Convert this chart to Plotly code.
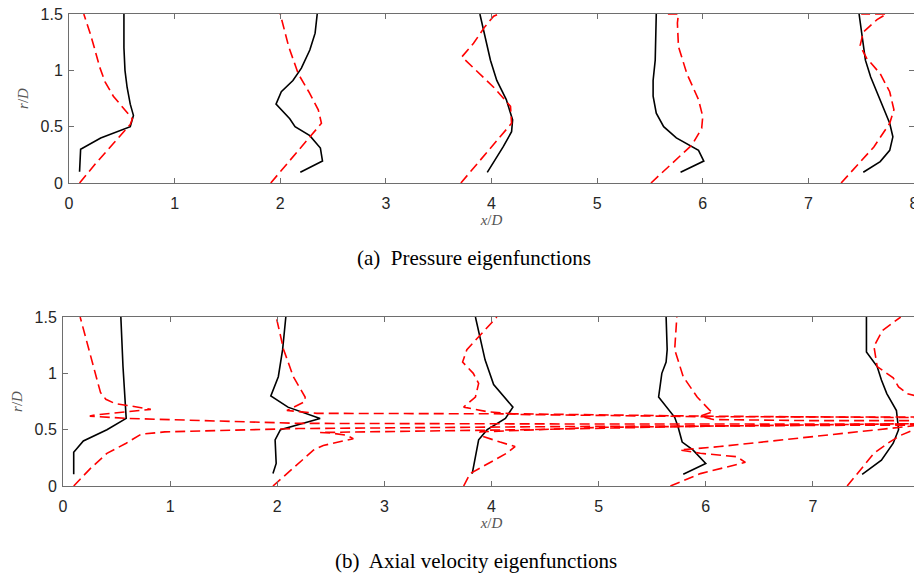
import plotly.graph_objects as go

# ---------------- data: (x/D, r/D) points ----------------
# (a) pressure eigenfunctions - solid black
pres_solid_1 = [(0.10, 0.10), (0.11, 0.30), (0.30, 0.40), (0.45, 0.45), (0.58, 0.50), (0.61, 0.60),
                (0.58, 0.70), (0.55, 0.85), (0.53, 1.00), (0.52, 1.20), (0.52, 1.50)]
pres_solid_2 = [(2.19, 0.095), (2.40, 0.195), (2.38, 0.31), (2.28, 0.42), (2.14, 0.50), (2.09, 0.57),
                (1.96, 0.70), (2.01, 0.81), (2.12, 0.91), (2.20, 1.02), (2.28, 1.18), (2.33, 1.33), (2.35, 1.50)]
pres_solid_3 = [(3.96, 0.095), (4.11, 0.32), (4.19, 0.455), (4.20, 0.56), (4.14, 0.74), (4.05, 0.91),
                (3.99, 1.09), (3.94, 1.30), (3.89, 1.50)]
pres_solid_4 = [(5.79, 0.095), (6.01, 0.195), (5.96, 0.29), (5.86, 0.34), (5.75, 0.40), (5.63, 0.50),
                (5.56, 0.62), (5.53, 0.77), (5.53, 0.91), (5.55, 1.09), (5.56, 1.50)]
pres_solid_5 = [(7.52, 0.095), (7.68, 0.19), (7.77, 0.29), (7.80, 0.41), (7.77, 0.53), (7.68, 0.74),
                (7.59, 0.94), (7.54, 1.09), (7.51, 1.30), (7.48, 1.50)]
# (a) pressure eigenfunctions - dashed red
pres_dash_1 = [(0.10, 0.00), (0.25, 0.17), (0.42, 0.35), (0.58, 0.52), (0.60, 0.57), (0.52, 0.66),
               (0.42, 0.77), (0.34, 0.90), (0.29, 1.03), (0.24, 1.20), (0.20, 1.33), (0.14, 1.50)]
pres_dash_2 = [(1.91, 0.00), (2.15, 0.27), (2.39, 0.53), (2.36, 0.65), (2.27, 0.81), (2.17, 0.97),
               (2.08, 1.21), (2.00, 1.50)]
pres_dash_3 = [(3.71, 0.00), (3.95, 0.27), (4.19, 0.53), (4.18, 0.68), (4.02, 0.85), (3.72, 1.12),
               (3.83, 1.24), (3.94, 1.39), (4.02, 1.48), (4.07, 1.50)]
pres_dash_4 = [(5.51, 0.00), (5.70, 0.17), (5.90, 0.34), (5.99, 0.485), (6.00, 0.59), (5.96, 0.74),
               (5.85, 0.97), (5.77, 1.21), (5.76, 1.42), (5.77, 1.50), (5.67, 1.50)]
pres_dash_5 = [(7.31, 0.00), (7.62, 0.32), (7.77, 0.53), (7.81, 0.65), (7.77, 0.81), (7.68, 0.97),
               (7.55, 1.11), (7.49, 1.22), (7.52, 1.34), (7.65, 1.45), (7.74, 1.50), (7.50, 1.50)]

# (b) axial velocity eigenfunctions - solid black
axial_solid_1 = [(0.10, 0.104), (0.10, 0.30), (0.19, 0.40), (0.41, 0.50), (0.59, 0.60), (0.58, 0.76),
                 (0.56, 1.06), (0.54, 1.50)]
axial_solid_2 = [(1.96, 0.11), (1.99, 0.20), (1.98, 0.41), (2.03, 0.50), (2.40, 0.60), (2.10, 0.70),
                 (1.94, 0.80), (2.01, 0.97), (2.05, 1.21), (2.08, 1.50)]
axial_solid_3 = [(3.82, 0.11), (3.88, 0.41), (3.96, 0.50), (4.13, 0.60), (4.20, 0.70), (4.02, 0.90),
                 (3.94, 1.12), (3.89, 1.33), (3.85, 1.50)]
axial_solid_4 = [(5.79, 0.104), (6.00, 0.20), (5.88, 0.32), (5.78, 0.39), (5.74, 0.53), (5.71, 0.61),
                 (5.56, 0.79), (5.59, 1.00), (5.63, 1.10), (5.64, 1.21), (5.63, 1.50)]
axial_solid_5 = [(7.46, 0.104), (7.64, 0.23), (7.75, 0.38), (7.80, 0.50), (7.78, 0.67), (7.69, 0.82),
                 (7.64, 0.94), (7.60, 1.06), (7.50, 1.19), (7.50, 1.33), (7.50, 1.50)]
# (b) axial velocity eigenfunctions - dashed red (spikes run past the axis edge)
axial_dash_1 = [(0.10, 0.00), (0.25, 0.15), (0.41, 0.29), (0.59, 0.38), (0.73, 0.46), (0.95, 0.48),
                (2.20, 0.51), (5.00, 0.53), (9.00, 0.545), (9.00, 0.55), (5.00, 0.55), (2.20, 0.556),
                (0.60, 0.60), (0.38, 0.61), (0.25, 0.62), (0.30, 0.63), (0.60, 0.655), (0.82, 0.68),
                (0.60, 0.715), (0.49, 0.73), (0.40, 0.77), (0.35, 0.83), (0.31, 0.97), (0.24, 1.21),
                (0.16, 1.50)]
axial_dash_2 = [(1.96, 0.00), (2.13, 0.146), (2.34, 0.32), (2.43, 0.36), (2.71, 0.42), (2.65, 0.45),
                (2.50, 0.47), (2.40, 0.475), (4.30, 0.50), (6.00, 0.53), (9.00, 0.56), (9.00, 0.60),
                (6.00, 0.62), (4.30, 0.64), (2.37, 0.645), (2.09, 0.67), (2.26, 0.75), (2.26, 0.79),
                (2.15, 0.97), (2.06, 1.21), (1.99, 1.50)]
axial_dash_3 = [(3.74, 0.00), (3.80, 0.11), (4.14, 0.29), (4.22, 0.35), (4.08, 0.39), (3.92, 0.44),
                (3.89, 0.48), (5.00, 0.52), (9.00, 0.565), (9.00, 0.61), (6.00, 0.615), (4.27, 0.635),
                (3.96, 0.66), (3.74, 0.70), (3.85, 0.79), (3.88, 0.91), (3.83, 1.00), (3.73, 1.10),
                (3.77, 1.21), (4.05, 1.50)]
axial_dash_4 = [(5.67, 0.00), (5.95, 0.11), (6.37, 0.21), (6.29, 0.26), (5.95, 0.29), (5.76, 0.32),
                (6.13, 0.35), (8.00, 0.54), (9.00, 0.56), (9.00, 0.58), (7.00, 0.58), (6.07, 0.59),
                (5.95, 0.62), (6.07, 0.66), (6.04, 0.67), (5.92, 0.79), (5.79, 0.97), (5.71, 1.21),
                (5.73, 1.50)]
axial_dash_5 = [(7.32, 0.00), (7.45, 0.15), (7.57, 0.29), (7.70, 0.38), (7.82, 0.45), (8.00, 0.52),
                (9.00, 0.60), (9.00, 0.75), (8.00, 0.79), (7.88, 0.82), (7.80, 0.88), (7.75, 0.96),
                (7.60, 1.06), (7.57, 1.24), (7.65, 1.38), (7.82, 1.50)]

x_ticks = [0, 1, 2, 3, 4, 5, 6, 7, 8]
y_ticks = [0, 0.5, 1, 1.5]
y_tick_labels = ["0", "0.5", "1", "1.5"]
caption_a = "(a)  Pressure eigenfunctions"
caption_b = "(b)  Axial velocity eigenfunctions"

pres_solid = [pres_solid_1, pres_solid_2, pres_solid_3, pres_solid_4, pres_solid_5]
pres_dash = [pres_dash_1, pres_dash_2, pres_dash_3, pres_dash_4, pres_dash_5]
axial_solid = [axial_solid_1, axial_solid_2, axial_solid_3, axial_solid_4, axial_solid_5]
axial_dash = [axial_dash_1, axial_dash_2, axial_dash_3, axial_dash_4, axial_dash_5]

# the page body has an 8px margin, so the figure is drawn 8px in from the window corner
OFF = 8
W, H = 922, 573
fig = go.Figure()

def add_curves(curves, color, dash, xa, ya):
    for c in curves:
        fig.add_trace(go.Scatter(
            x=[p[0] for p in c], y=[p[1] for p in c], mode="lines",
            line=dict(color=color, width=1.6, dash=dash),
            xaxis=xa, yaxis=ya, showlegend=False, hoverinfo="skip"))

add_curves(pres_solid, "black", "solid", "x", "y")
add_curves(pres_dash, "#ff0000", "10px,5px", "x", "y")
add_curves(axial_solid, "black", "solid", "x2", "y2")
add_curves(axial_dash, "#ff0000", "10px,5px", "x2", "y2")

axis_col = "#6e6e6e"
tick_font = dict(family="Liberation Sans, Arial, sans-serif", size=16, color="#262626")
title_font = dict(family="Liberation Serif, Times New Roman, serif", size=15, color="#555555")

def px_x(px):
    return (px - OFF) / W

def px_y(py):
    return (H - (py - OFF)) / H

def xax(l, r, anchor):
    return dict(domain=[px_x(l), px_x(r)], anchor=anchor, range=[0, 8], tickvals=x_ticks,
                showline=True, linecolor=axis_col, linewidth=1, mirror="ticks",
                ticks="inside", ticklen=5, tickcolor=axis_col, tickwidth=1,
                showgrid=False, zeroline=False, tickfont=tick_font, automargin=False,
                ticklabelstandoff=6, ticklabeloverflow="allow",
                title=dict(text="<i>x</i>/<i>D</i>", font=title_font, standoff=1))

def yax(b, t, anchor):
    return dict(domain=[px_y(b), px_y(t)], anchor=anchor, range=[0, 1.5], tickvals=y_ticks,
                ticktext=y_tick_labels,
                showline=True, linecolor=axis_col, linewidth=1, mirror="ticks",
                ticks="inside", ticklen=5, tickcolor=axis_col, tickwidth=1,
                showgrid=False, zeroline=False, tickfont=tick_font, automargin=False,
                ticklabelstandoff=2, ticklabeloverflow="allow",
                title=dict(text="<i>r</i>/<i>D</i>", font=title_font, standoff=8))

cap_font = dict(family="Liberation Serif, Times New Roman, serif", size=21, color="black")

fig.update_layout(
    width=W, height=H, margin=dict(l=0, r=0, t=0, b=0),
    paper_bgcolor="white", plot_bgcolor="white",
    xaxis=xax(69, 914, "y"),
    yaxis=yax(183, 14, "x"),
    xaxis2=xax(63, 920, "y2"),
    yaxis2=yax(486, 317, "x2"),
    annotations=[
        dict(text=caption_a, x=px_x(474), y=px_y(258), xref="paper", yref="paper",
             showarrow=False, xanchor="center", yanchor="middle", font=cap_font),
        dict(text=caption_b, x=px_x(476), y=px_y(561), xref="paper", yref="paper",
             showarrow=False, xanchor="center", yanchor="middle", font=cap_font),
    ],
)

fig.write_html("out.html")
